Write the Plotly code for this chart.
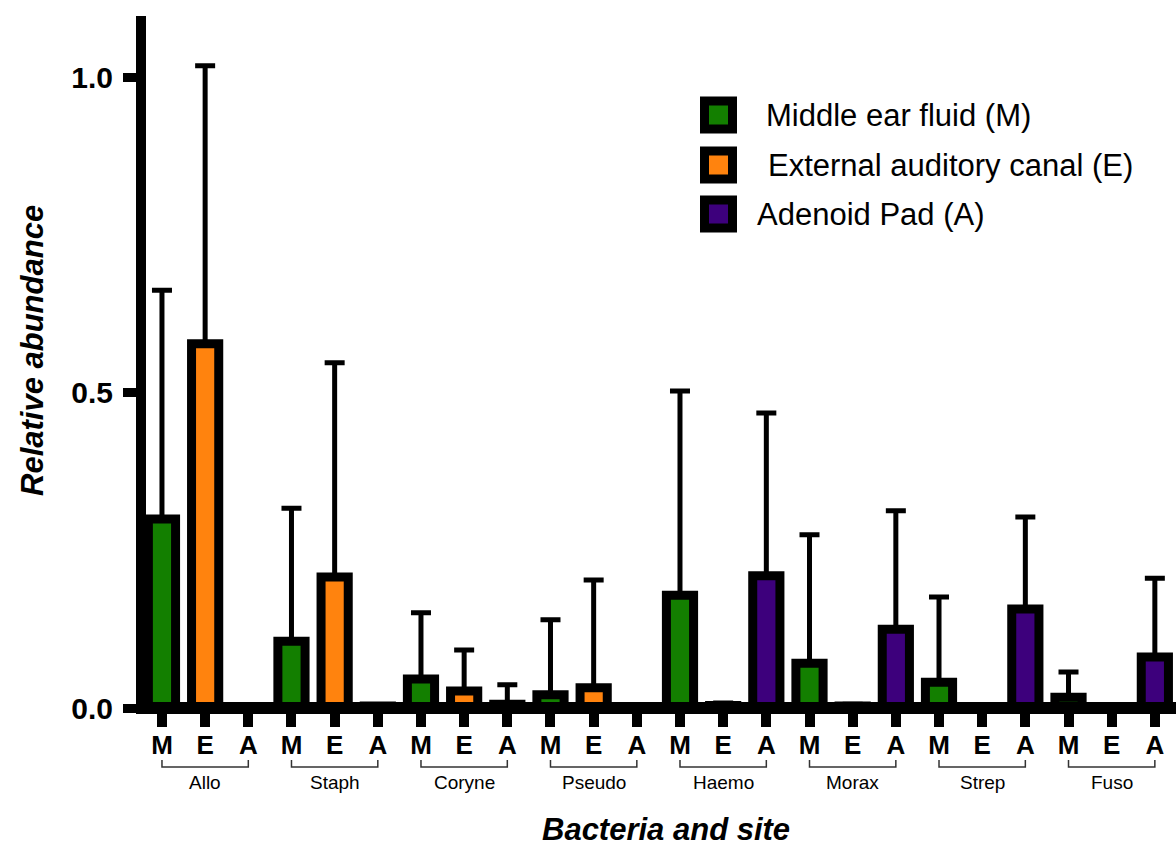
import plotly.graph_objects as go

# ---- data ----
groups = ["Allo", "Staph", "Coryne", "Pseudo", "Haemo", "Morax", "Strep", "Fuso"]
sites = ["M", "E", "A"]
series_names = ["Middle ear fluid (M)", " External auditory canal (E)", "Adenoid Pad (A)"]
series_colors = ["#137f00", "#ff830e", "#3d007c"]

m_mean = [0.300, 0.106, 0.046, 0.021, 0.179, 0.071, 0.041, 0.017]
m_err = [0.363, 0.211, 0.105, 0.119, 0.324, 0.204, 0.135, 0.040]
e_mean = [0.578, 0.208, 0.027, 0.032, 0.004, 0.003, 0.002, 0.000]
e_err = [0.441, 0.340, 0.065, 0.171, 0.004, 0.003, 0.002, 0.000]
a_mean = [0.000, 0.003, 0.006, 0.000, 0.210, 0.125, 0.157, 0.081]
a_err = [0.000, 0.002, 0.031, 0.000, 0.258, 0.188, 0.146, 0.125]

means = [m_mean, e_mean, a_mean]
errs = [m_err, e_err, a_err]

FONT = "Liberation Sans, Arial, Helvetica, sans-serif"

# ---- layout geometry (pixels) ----
W, H = 1176, 848
ML, MR, MT, MB = 146, 0, 16, 140
PW = W - ML - MR
PH = H - MT - MB


def px_x(p):
    return (p - ML) / PW


def px_y(p):
    return (H - MB - p) / PH


fig = go.Figure()

for s in range(3):
    xs = [g * 3 + s for g in range(len(groups))]
    fig.add_trace(go.Bar(
        x=xs,
        y=means[s],
        width=0.63,
        name=series_names[s],
        marker=dict(color=series_colors[s], line=dict(color="black", width=9)),
        error_y=dict(type="data", array=errs[s], arrayminus=[0] * len(groups),
                     symmetric=False, color="black", thickness=5, width=10),
        showlegend=False,
    ))

tickvals = list(range(len(groups) * 3))
ticktext = [sites[i % 3] for i in tickvals]

fig.update_layout(
    width=W, height=H,
    margin=dict(l=ML, r=MR, t=MT, b=MB, pad=0),
    paper_bgcolor="white", plot_bgcolor="white",
    barmode="overlay",
    font=dict(family=FONT, color="black"),
    xaxis=dict(
        range=[-0.37, 23.49],
        tickvals=tickvals, ticktext=ticktext,
        tickfont=dict(size=26, family=FONT, weight="bold"),
        showline=False,
        ticks="outside", ticklen=18, tickwidth=10, tickcolor="black",
        ticklabelstandoff=-4,
        showgrid=False, zeroline=False,
    ),
    yaxis=dict(
        range=[0, 1.098],
        tickvals=[0, 0.5, 1.0], ticktext=["0.0", "0.5", "1.0"],
        tickfont=dict(size=30, family=FONT, weight="bold"),
        showline=True, linewidth=10, linecolor="black",
        ticks="outside", ticklen=13, tickwidth=9, tickcolor="black",
        ticklabelstandoff=4,
        showgrid=False, zeroline=False,
    ),
)

# x-axis baseline drawn at y = 0 (centered on zero like the reference)
fig.add_shape(type="line", xref="paper", yref="paper", x0=px_x(136), x1=1, y0=0, y1=0,
              line=dict(color="black", width=12), layer="above")

# axis titles
fig.add_annotation(x=px_x(666), y=px_y(829), xref="paper", yref="paper",
                   text="<b><i>Bacteria and site</i></b>", showarrow=False,
                   xanchor="center", yanchor="middle",
                   font=dict(size=31, family=FONT, color="black"))
fig.add_annotation(x=px_x(32), y=px_y(351), xref="paper", yref="paper",
                   text="<b><i>Relative abundance</i></b>", showarrow=False,
                   textangle=-90, xanchor="center", yanchor="middle",
                   font=dict(size=31, family=FONT, color="black"))

# group brackets and labels
for g, name in enumerate(groups):
    x0 = g * 3
    x1 = g * 3 + 2
    ya = px_y(760)
    yb = px_y(767)
    fig.add_shape(type="path", xref="x", yref="paper",
                  path=f"M {x0},{ya} L {x0},{yb} L {x1},{yb} L {x1},{ya}",
                  line=dict(color="#333333", width=1.5))
    fig.add_annotation(x=g * 3 + 1, y=px_y(782), xref="x", yref="paper",
                       text=name, showarrow=False, xanchor="center", yanchor="middle",
                       font=dict(size=19, family=FONT, color="black"))

# custom legend
leg_y = [115, 165, 214]
leg_tx = [764, 766, 755]
for s in range(3):
    cy = leg_y[s]
    fig.add_shape(type="rect", xref="paper", yref="paper",
                  x0=px_x(704.5), x1=px_x(732.5), y0=px_y(cy - 14), y1=px_y(cy + 14),
                  fillcolor=series_colors[s], line=dict(color="black", width=9))
    fig.add_annotation(x=px_x(leg_tx[s]), y=px_y(cy), xref="paper", yref="paper",
                       text=series_names[s].strip(), showarrow=False,
                       xanchor="left", yanchor="middle",
                       font=dict(size=31, family=FONT, color="black"))

fig.write_html("out.html")
